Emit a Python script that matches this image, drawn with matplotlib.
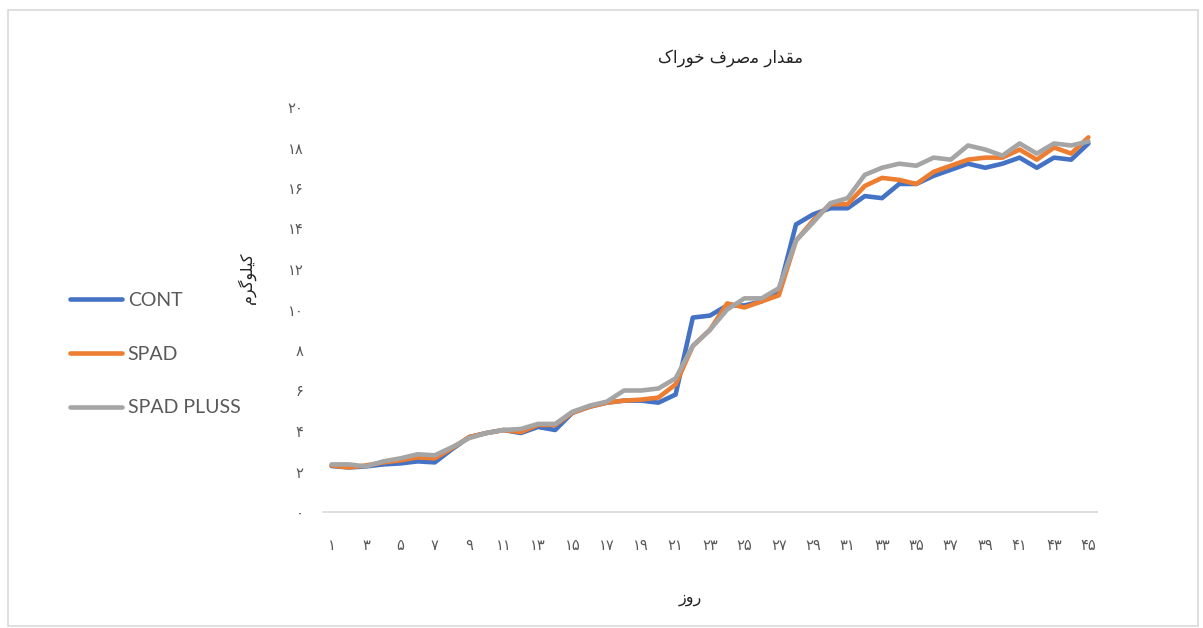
import matplotlib.pyplot as plt
from matplotlib.patches import Rectangle

# Data (feed consumption, kg)
days = list(range(1, 46))
cont = [2.27, 2.2, 2.25, 2.35, 2.4, 2.5, 2.45, 3.1, 3.7, 3.9,
        4.05, 3.9, 4.2, 4.05, 4.9, 5.2, 5.4, 5.5, 5.5, 5.4,
        5.8, 9.6, 9.7, 10.2, 10.2, 10.4, 10.9, 14.2, 14.7, 15.0,
        15.0, 15.6, 15.5, 16.2, 16.2, 16.6, 16.9, 17.2, 17.0, 17.2,
        17.5, 17.0, 17.5, 17.4, 18.2]
spad = [2.3, 2.2, 2.3, 2.45, 2.55, 2.7, 2.65, 3.15, 3.7, 3.9,
        4.05, 3.95, 4.3, 4.3, 4.9, 5.2, 5.4, 5.5, 5.55, 5.65,
        6.3, 8.2, 9.0, 10.3, 10.1, 10.4, 10.7, 13.4, 14.4, 15.2,
        15.2, 16.1, 16.5, 16.4, 16.2, 16.8, 17.1, 17.4, 17.5, 17.5,
        17.9, 17.4, 18.0, 17.7, 18.5]
spad_pluss = [2.35, 2.35, 2.25, 2.5, 2.65, 2.85, 2.8, 3.2, 3.65, 3.9,
              4.05, 4.1, 4.35, 4.35, 4.95, 5.25, 5.45, 6.0, 6.0, 6.1,
              6.6, 8.2, 9.0, 10.0, 10.55, 10.55, 11.05, 13.4, 14.3, 15.25,
              15.5, 16.65, 17.0, 17.2, 17.1, 17.5, 17.4, 18.1, 17.9, 17.6,
              18.2, 17.7, 18.2, 18.1, 18.3]
series_names = ['CONT', 'SPAD', 'SPAD PLUSS']
colors = ['#4472C4', '#ED7D31', '#A5A5A5']

fa_digits = '۰۱۲۳۴۵۶۷۸۹'
def fa(n):
    return ''.join(fa_digits[int(c)] for c in str(n))

# Persian text, pre-shaped and in visual (left-to-right) order
title_txt = '\u06A9\u0627\u0631\uFEEE\uFEA7 \u0641\uFEAE\uFEBB\uFEE3 \u0631\u0627\uFEAA\uFED8\uFEE3'
ylabel_txt = '\u0645\uFEAE\uFB94\uFEEE\uFEE0\uFBFF\uFB90'
xlabel_txt = '\u0632\u0648\u0631'

W, H = 1203, 628
fig = plt.figure(figsize=(W / 100, H / 100), dpi=100)
ax = fig.add_axes([323 / W, 1 - 512 / H, (1097 - 323) / W, (512 - 107) / H])

for vals, name, c in zip([cont, spad, spad_pluss], series_names, colors):
    ax.plot(days, vals, color=c, lw=3.3, label=name, solid_capstyle='round', solid_joinstyle='round')

ax.set_xlim(0.5, 45.5)
ax.set_ylim(0, 20)
ax.set_yticks(range(0, 21, 2))
ax.set_yticklabels([fa(v) for v in range(0, 21, 2)])
ax.set_xticks(days[::2])
ax.set_xticklabels([fa(d) for d in days[::2]])
ax.tick_params(axis='both', length=0, colors='#595959', labelsize=10.5)
ax.tick_params(axis='x', pad=19)
ax.tick_params(axis='y', pad=14)
for s in ['top', 'right', 'left']:
    ax.spines[s].set_visible(False)
ax.spines['bottom'].set_color('#D9D9D9')
ax.spines['bottom'].set_linewidth(1.2)

fig.text(730 / W, 1 - 58 / H, title_txt, ha='center', va='center', fontsize=12, color='#222222')
fig.text(247 / W, 1 - 278 / H, ylabel_txt, ha='center', va='center', rotation=90, fontsize=11.5, color='#222222')
fig.text(690 / W, 1 - 598 / H, xlabel_txt, ha='center', va='center', fontsize=11.5, color='#222222')

leg = fig.legend(loc='center left', bbox_to_anchor=(52 / W, 1 - 354 / H), frameon=False,
                 prop={'family': 'Lato', 'size': 14}, labelcolor='#595959',
                 handlelength=2.7, handletextpad=0.3, labelspacing=1.9)

fig.patches.append(Rectangle((8 / W, 1 - 626 / H), (1198 - 8) / W, (626 - 10) / H,
                             transform=fig.transFigure, fill=False, edgecolor='#D9D9D9', lw=1.2))

fig.savefig('out.png', dpi=100)
